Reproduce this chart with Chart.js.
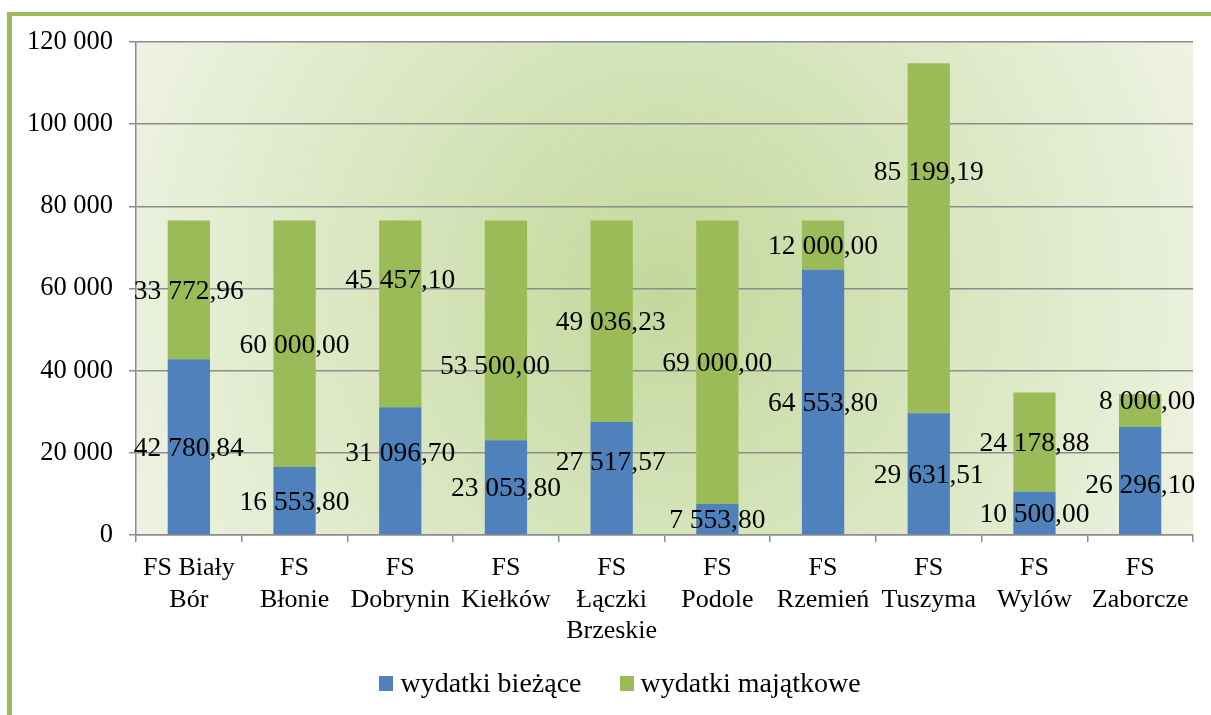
<!DOCTYPE html>
<html>
<head>
<meta charset="utf-8">
<script src="https://cdn.jsdelivr.net/npm/chart.js@4"></script>
<style>
  html, body { margin: 0; padding: 0; background: #fff; }
  #wrap { position: relative; width: 1211px; height: 715px; overflow: hidden; }
  #frame { position: absolute; left: 7px; top: 12px; width: 1300px; height: 800px;
           border-left: 5px solid #9bbb59; border-top: 4px solid #9bbb59; }
  #chart { position: absolute; left: 0; top: 0; }
  #legend { position: absolute; left: 0; top: 665px; width: 1240px; display: flex; justify-content: center;
            font: 28px "Liberation Serif", "Times New Roman", serif; color: #000; line-height: 36px; }
  #legend .item { display: flex; align-items: center; margin: 0 19px; }
  #legend .box { width: 14px; height: 15px; margin-right: 7px; }
</style>
</head>
<body>
<div id="wrap">
  <div id="frame"></div>
  <canvas id="chart" width="1211" height="715"></canvas>
  <div id="legend"></div>
</div>
<script>
const categories = [
  ['FS Biały', 'Bór'], ['FS', 'Błonie'], ['FS', 'Dobrynin'], ['FS', 'Kiełków'],
  ['FS', 'Łączki', 'Brzeskie'], ['FS', 'Podole'], ['FS', 'Rzemień'], ['FS', 'Tuszyma'],
  ['FS', 'Wylów'], ['FS', 'Zaborcze']
];
const wydatkiBiezace = [42780.84, 16553.80, 31096.70, 23053.80, 27517.57, 7553.80, 64553.80, 29631.51, 10500.00, 26296.10];
const wydatkiMajatkowe = [33772.96, 60000.00, 45457.10, 53500.00, 49036.23, 69000.00, 12000.00, 85199.19, 24178.88, 8000.00];
const yTicks = [0, 20000, 40000, 60000, 80000, 100000, 120000];

// label nudges [dx, dy] in px, where the labels were moved by hand in the original
const labelShiftBiezace = [[0, 0], [0, 0], [0, -19], [0, 0], [-1, -17], [0, 0], [0, 0], [0, 0], [0, 0], [0, 3]];
const labelShiftMajatkowe = [[0, 0], [0, 0], [0, -35], [-11, 34], [-1, 0], [0, 0], [0, 0], [0, -67], [0, 0], [7, -11]];

const FONT = '"Liberation Serif", "Times New Roman", serif';

function groupThousands(s) {
  return s.replace(/\B(?=(\d{3})+(?!\d))/g, ' ');
}
function fmtValue(v) {
  const parts = v.toFixed(2).split('.');
  return groupThousands(parts[0]) + ',' + parts[1];
}

const plotBackground = {
  id: 'plotBackground',
  beforeDraw(chart) {
    const { ctx, chartArea: a } = chart;
    const cx = (a.left + a.right) / 2, cy = (a.top + a.bottom) / 2;
    const r = Math.hypot(a.right - a.left, a.bottom - a.top) / 2;
    const g = ctx.createRadialGradient(cx, cy, 0, cx, cy, r);
    g.addColorStop(0, '#c3d89c');
    g.addColorStop(1, '#eef3e3');
    ctx.save();
    ctx.fillStyle = g;
    ctx.fillRect(a.left, a.top, a.right - a.left, a.bottom - a.top);
    ctx.restore();
  }
};

const valueLabels = {
  id: 'valueLabels',
  afterDatasetsDraw(chart) {
    const { ctx } = chart;
    const shifts = [labelShiftBiezace, labelShiftMajatkowe];
    ctx.save();
    ctx.font = '27.5px ' + FONT;
    ctx.fillStyle = '#000';
    ctx.textAlign = 'center';
    ctx.textBaseline = 'middle';
    chart.data.datasets.forEach((ds, i) => {
      chart.getDatasetMeta(i).data.forEach((bar, j) => {
        const p = bar.getProps(['x', 'y', 'base'], true);
        const [dx, dy] = shifts[i][j];
        ctx.fillText(fmtValue(ds.data[j]), p.x + dx, (p.y + p.base) / 2 + 2 + dy);
      });
    });
    ctx.restore();
  }
};

const chart = new Chart(document.getElementById('chart'), {
  type: 'bar',
  data: {
    labels: categories,
    datasets: [{
      label: 'wydatki bieżące',
      data: wydatkiBiezace,
      backgroundColor: '#4f81bd',
      barPercentage: 0.4,
      categoryPercentage: 1
    }, {
      label: 'wydatki majątkowe',
      data: wydatkiMajatkowe,
      backgroundColor: '#9bbb59',
      barPercentage: 0.4,
      categoryPercentage: 1
    }]
  },
  options: {
    responsive: false,
    animation: false,
    layout: { padding: { left: 0, top: 42, right: 18, bottom: 58 } },
    scales: {
      x: {
        stacked: true,
        grid: { drawOnChartArea: false, drawTicks: true, tickLength: 7, color: '#8c8c8c', lineWidth: 1.5 },
        border: { color: '#8c8c8c', width: 1.5 },
        ticks: { color: '#000', font: { family: FONT, size: 26, lineHeight: 1.2 }, padding: 11, maxRotation: 0, autoSkip: false },
        afterFit(scale) { scale.height = 122; }
      },
      y: {
        stacked: true,
        min: 0,
        max: 120000,
        afterBuildTicks(scale) { scale.ticks = yTicks.map(v => ({ value: v })); },
        grid: { color: '#8c8c8c', lineWidth: 1.5, tickLength: 7 },
        border: { color: '#8c8c8c', width: 1.5 },
        ticks: {
          color: '#000',
          font: { family: FONT, size: 26.5 },
          padding: 16,
          callback: v => groupThousands(String(v))
        },
        afterFit(scale) { scale.width = 136; }
      }
    },
    plugins: {
      legend: { display: false },
      tooltip: { enabled: false }
    }
  },
  plugins: [plotBackground, valueLabels]
});

// legend as html, built from the chart's datasets
const legendEl = document.getElementById('legend');
chart.data.datasets.forEach(ds => {
  const item = document.createElement('div');
  item.className = 'item';
  const box = document.createElement('span');
  box.className = 'box';
  box.style.background = ds.backgroundColor;
  const txt = document.createElement('span');
  txt.textContent = ds.label;
  item.appendChild(box);
  item.appendChild(txt);
  legendEl.appendChild(item);
});
</script>
</body>
</html>
